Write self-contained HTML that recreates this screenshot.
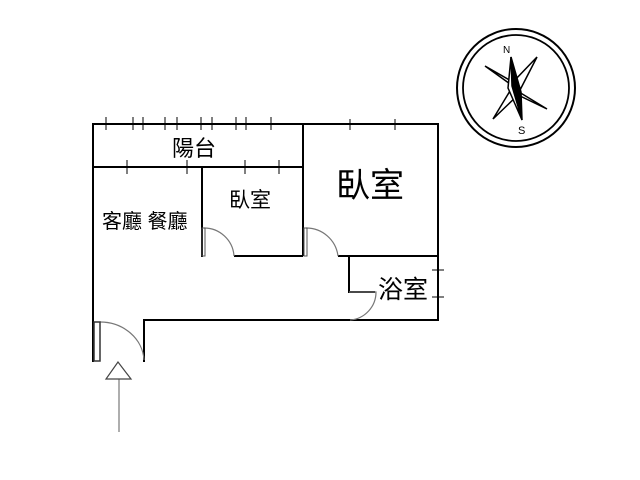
<!DOCTYPE html>
<html><head><meta charset="utf-8"><style>body{margin:0;background:#fff}</style></head><body>
<svg width="640" height="480" viewBox="0 0 640 480" xmlns="http://www.w3.org/2000/svg" style="display:block">
<g fill="none" stroke="#000" stroke-width="2">
<polyline points="93,362 93,124 438,124 438,320 144,320 144,362"/>
<line x1="93" y1="167" x2="303" y2="167"/>
<line x1="303" y1="124" x2="303" y2="256"/>
<line x1="202" y1="167" x2="202" y2="257"/>
<line x1="234" y1="256" x2="303" y2="256"/>
<line x1="338" y1="256" x2="438" y2="256"/>
<polyline points="349,256 349,292 375,292"/>
</g>
<g stroke="#000" stroke-width="1">
<line x1="106" y1="117" x2="106" y2="130"/><line x1="133" y1="117" x2="133" y2="130"/><line x1="143" y1="117" x2="143" y2="130"/>
<line x1="165" y1="117" x2="165" y2="130"/><line x1="177" y1="117" x2="177" y2="130"/><line x1="201" y1="117" x2="201" y2="130"/>
<line x1="212" y1="117" x2="212" y2="130"/><line x1="236" y1="117" x2="236" y2="130"/><line x1="246" y1="117" x2="246" y2="130"/>
<line x1="271" y1="117" x2="271" y2="130"/>
<line x1="350" y1="119" x2="350" y2="130"/><line x1="395" y1="119" x2="395" y2="130"/>
<line x1="127" y1="160" x2="127" y2="174"/><line x1="187" y1="160" x2="187" y2="174"/>
<line x1="245" y1="160" x2="245" y2="174"/><line x1="279" y1="160" x2="279" y2="174"/>
<line x1="432" y1="270" x2="444" y2="270"/><line x1="432" y1="297" x2="444" y2="297"/><line x1="438" y1="266" x2="438" y2="301"/>
</g>
<g fill="none" stroke="#777" stroke-width="1.2">
<path d="M204,228 A30,30 0 0 1 234,256"/>
<path d="M306,228 A32,32 0 0 1 338,256"/>
<path d="M349,292 L376,292 A28,28 0 0 1 350,320"/>
<path d="M100,322 A44,40 0 0 1 144,360"/>
<line x1="119" y1="379" x2="119" y2="432"/>
<polygon points="118,362 106,379 131,379" stroke="#444"/>
</g>
<rect x="202" y="228" width="3" height="28" fill="none" stroke="#555" stroke-width="1"/>
<rect x="304" y="228" width="3" height="28" fill="none" stroke="#555" stroke-width="1"/>
<rect x="94" y="322" width="6" height="39" fill="none" stroke="#333" stroke-width="1.5"/>
<g font-family="'Liberation Sans','Noto Sans CJK TC',sans-serif" fill="#000">
<text x="172" y="156" font-size="22">陽台</text>
<text x="229" y="207" font-size="21">臥室</text>
<text x="102" y="228" font-size="20">客廳 餐廳</text>
<text x="336" y="197" font-size="34">臥室</text>
<text x="378" y="298" font-size="25">浴室</text>
<text x="503" y="53" font-size="10">N</text>
<text x="518" y="134" font-size="11">S</text>
</g>
<circle cx="516" cy="88" r="59" fill="none" stroke="#000" stroke-width="2"/>
<circle cx="516" cy="88" r="53" fill="none" stroke="#000" stroke-width="1.8"/>
<g stroke="#000" stroke-width="1.5" stroke-linejoin="miter">
<polygon points="485,66 513,82 537,57 519,92 547,109 518,95 493,119 513,86" fill="#fff"/>
<polygon points="511,57 521,92 522,120 512,86" fill="#000"/>
<polygon points="511,57 512,86 522,120 508,88" fill="#fff"/>
</g>
</svg>
</body></html>
